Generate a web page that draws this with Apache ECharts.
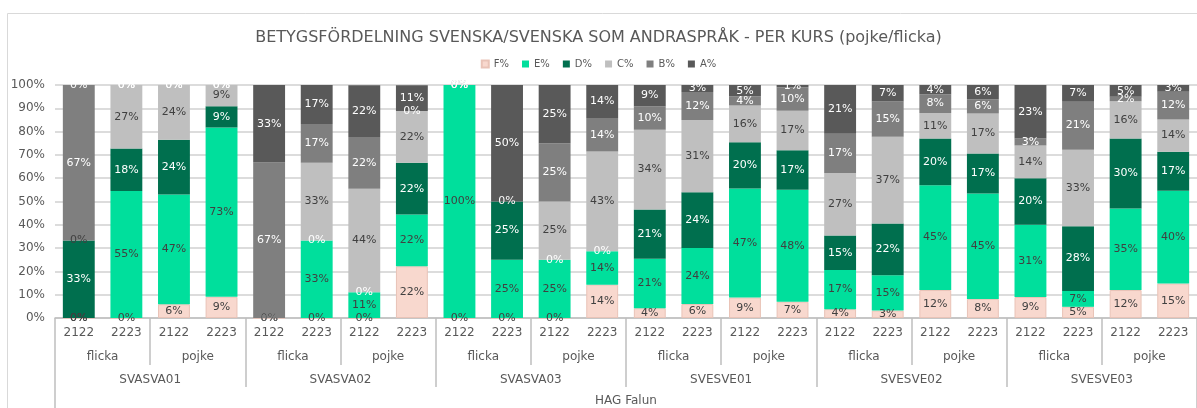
<!DOCTYPE html>
<html><head><meta charset="utf-8">
<script src="https://cdn.jsdelivr.net/npm/echarts@6/dist/echarts.min.js"></script>
<style>html,body{margin:0;padding:0;background:#fff}#c{width:1197px;height:408px}</style>
</head><body><div id="c"></div>
<script>
const years = ['2122','2223','2122','2223','2122','2223','2122','2223','2122','2223','2122','2223','2122','2223','2122','2223','2122','2223','2122','2223','2122','2223','2122','2223'];
const genders = ['flicka','pojke','flicka','pojke','flicka','pojke','flicka','pojke','flicka','pojke','flicka','pojke'];
const courses = ['SVASVA01','SVASVA02','SVASVA03','SVESVE01','SVESVE02','SVESVE03'];
const school = ['HAG Falun'];
const seriesNames = ['F%','E%','D%','C%','B%','A%'];
const F = [0,0,5.9,9.1, 0,0,0,22.2, 0,0,0,14.3, 4.2,6,8.8,7, 3.8,3.2,12,8.2, 9,4.8,12,14.8];
const E = [0,54.5,47.1,72.7, 0,33.3,11.1,22.2, 100,25,25,14.3, 21.2,24,46.8,48, 16.8,15.2,45,45.2, 31,6.8,35,39.8];
const D = [33.3,18.2,23.5,9.1, 0,0,0,22.2, 0,25,0,0, 21.2,24,19.8,17, 14.8,22.2,20,17.2, 20,27.8,30,16.8];
const C = [0,27.3,23.5,9.1, 0,33.3,44.4,22.2, 0,0,25,42.9, 34.2,31,15.8,17, 26.8,37.2,11,17.2, 14,32.8,16,13.8];
const B = [66.7,0,0,0, 66.7,16.7,22.2,0, 0,0,25,14.3, 10.1,12,3.9,10, 16.9,15.1,8,6.1, 3,20.9,2,11.9];
const A = [0,0,0,0, 33.3,16.7,22.2,11.1, 0,50,25,14.3, 9.1,3,4.9,1, 20.9,7.1,4,6.1, 23,6.9,5,2.9];
const values = [F,E,D,C,B,A];
const colors = ['#f8d8ce','#00df9c','#006f4e','#bfbfbf','#7f7f7f','#595959'];
const labelColors = ['#404040','#404040','#ffffff','#404040','#ffffff','#ffffff'];
const font = 'DejaVu Sans';
const txt = '#595959';

const chart = echarts.init(document.getElementById('c'));
const gridCat = {type:'category', gridIndex:0, position:'bottom', offset:0};
chart.setOption({
  animation:false,
  textStyle:{fontFamily:font},
  title:{text:'BETYGSFÖRDELNING SVENSKA/SVENSKA SOM ANDRASPRÅK - PER KURS (pojke/flicka)', left:'center', top:25,
    textStyle:{fontFamily:font, fontSize:16, fontWeight:'normal', color:txt}},
  legend:{top:54, left:'center', itemWidth:7, itemHeight:7, itemGap:13, icon:'rect',
    textStyle:{fontFamily:font, fontSize:10, color:txt}, data:seriesNames},
  graphic:[{type:'rect', shape:{x:7.5,y:13.5,width:1200,height:400}, style:{fill:'none', stroke:'#d9d9d9', lineWidth:1}, silent:true}],
  grid:{left:55, top:85, width:1145, height:233, containLabel:false},
  xAxis:[
    Object.assign({}, gridCat, {data:years, axisLine:{show:true, lineStyle:{color:'#bfbfbf', width:1.5}},
      axisTick:{show:false}, axisLabel:{interval:0, margin:9, fontSize:12, color:txt, fontFamily:font}}),
    Object.assign({}, gridCat, {data:genders, axisLine:{show:false},
      axisTick:{show:true, interval:0, length:47, lineStyle:{color:'#bfbfbf', width:1.5}},
      axisLabel:{interval:0, margin:33, fontSize:12, color:txt, fontFamily:font}}),
    Object.assign({}, gridCat, {data:courses, axisLine:{show:false},
      axisTick:{show:true, interval:0, length:69, lineStyle:{color:'#bfbfbf', width:1.5}},
      axisLabel:{interval:0, margin:56, fontSize:12, color:txt, fontFamily:font}}),
    Object.assign({}, gridCat, {data:school, axisLine:{show:false},
      axisTick:{show:true, interval:0, length:90, lineStyle:{color:'#bfbfbf', width:1.5}},
      axisLabel:{interval:0, margin:77, fontSize:12, color:txt, fontFamily:font}})
  ],
  yAxis:{type:'value', min:0, max:100, interval:10,
    axisLabel:{formatter:'{value}%', fontSize:12, color:txt, fontFamily:font, margin:10},
    axisLine:{show:false}, axisTick:{show:false},
    splitLine:{lineStyle:{color:'#d0d0d0', width:1.5}}},
  series: seriesNames.map((n,i)=>({
    name:n, type:'bar', stack:'all', xAxisIndex:0, barCategoryGap:'33%',
    data:values[i],
    itemStyle:{color:colors[i], borderColor: i===0 ? '#e9c3b7' : colors[i], borderWidth: i===0 ? 1 : 0},
    label:{show:true, position:'inside', fontSize:11, fontFamily:font, color:labelColors[i],
      formatter:p=>Math.round(p.value)+'%'}
  }))
});
</script></body></html>
